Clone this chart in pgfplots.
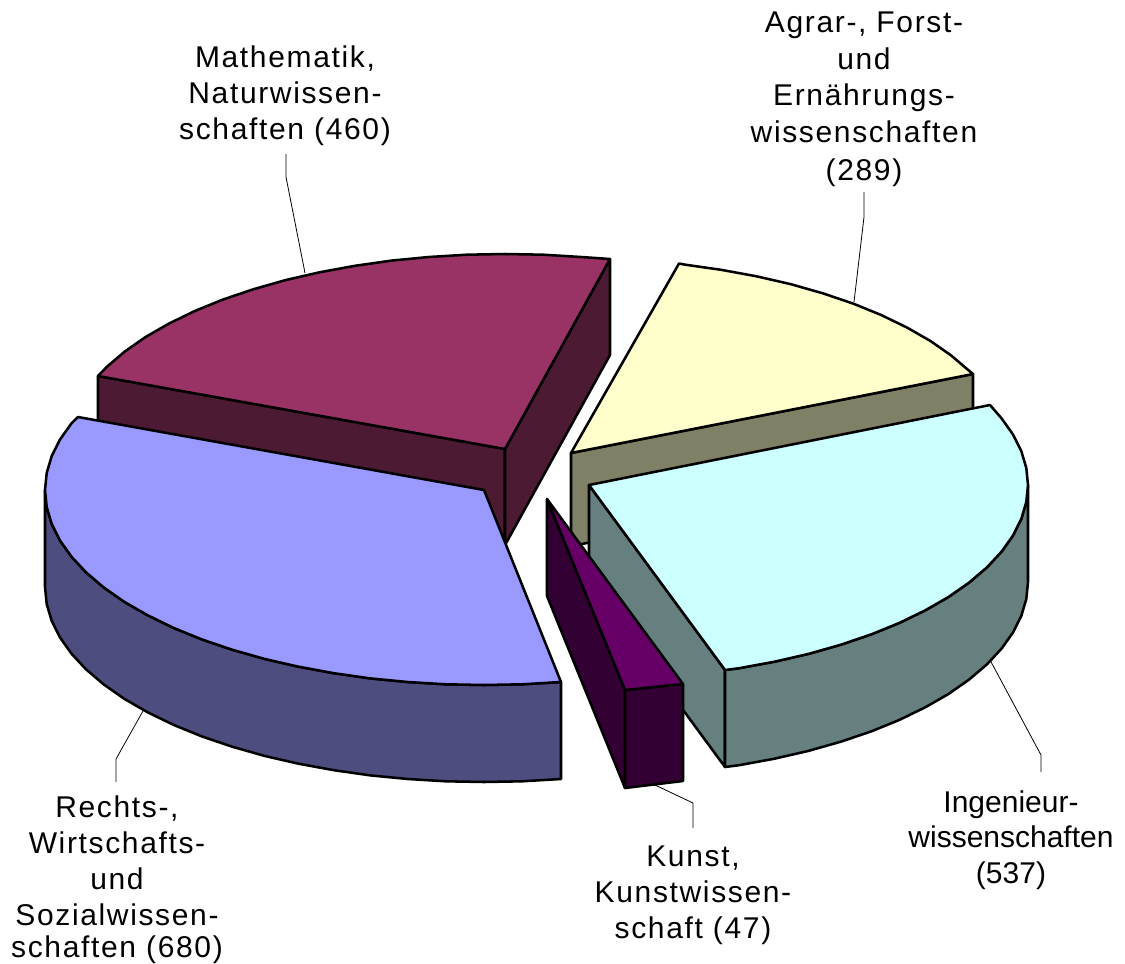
\documentclass[border=0pt]{standalone}
\usepackage{fontspec}
\setmainfont{Liberation Sans}
\usepackage{pgfplots}
\pgfplotsset{compat=1.18}
\definecolor{blueT}{HTML}{9999FF}\definecolor{blueS}{HTML}{4D4D80}
\definecolor{marT}{HTML}{993366}\definecolor{marS}{HTML}{4D1A33}
\definecolor{yelT}{HTML}{FFFFCC}\definecolor{yelS}{HTML}{808066}
\definecolor{cyaT}{HTML}{CCFFFF}\definecolor{cyaS}{HTML}{668080}
\definecolor{purT}{HTML}{660066}\definecolor{purS}{HTML}{330033}
\newcommand{\lbl}[4]{\node[anchor=base,inner sep=0pt,text=black] at (axis cs:#1,#2) {\fontsize{22.5pt}{27pt}\selectfont\addfontfeature{LetterSpace=#3}#4};}
\pgfplotsset{face/.style={draw=black,fill=#1,line width=1.9pt,line join=round},
 lead/.style={draw=black,line width=0.6pt}}
\begin{document}
\begin{tikzpicture}
\path[use as bounding box] (0,0) rectangle (843.75pt,723pt);
\begin{axis}[at={(0,0)},anchor=south west,scale only axis,width=843.75pt,height=723pt,
 xmin=0,xmax=1125,ymin=0,ymax=964,y dir=reverse,hide axis,clip=false]
% Mathematik: sides, top
\addplot[face=marS] coordinates {(98,376)(505,449)(505,545)(98,473)} --cycle;
\addplot[face=marS] coordinates {(505,449)(610,259)(610,355)(505,545)} --cycle;
\addplot[face=marT] coordinates {(505,449)(610,259)(581.2,257)(543.3,254.7)(505,254)(466.7,254.7)(428.8,257)(391.4,260.6)(354.9,265.8)(319.5,272.3)(285.5,280.1)(253.2,289.3)(222.8,299.6)(194.6,311.1)(168.7,323.7)(145.4,337.1)(124.8,351.5)(107.1,366.6)(98,376)} --cycle;
% Agrar: side, top
\addplot[face=yelS] coordinates {(571,453)(973,374)(973,471)(571,546)} --cycle;
\addplot[face=yelT] coordinates {(571,453)(679,263.5)(684.6,264.6)(721.1,269.8)(756.5,276.3)(790.5,284.1)(822.8,293.3)(853.2,303.6)(881.4,315.1)(907.3,327.7)(930.6,341.1)(951.2,355.5)(968.9,370.6)(973,374)} --cycle;
% Ingenieur: sides, top
\addplot[face=cyaS] coordinates {(589,485)(725,670)(725,767)(589,582)} --cycle;
\addplot[face=cyaS] coordinates {(1028,485)(1026.3,502)(1021.3,518.9)(1013,535.5)(1001.5,551.7)(986.9,567.4)(969.2,582.5)(948.6,596.9)(925.3,610.3)(899.4,622.9)(871.2,634.4)(840.8,644.7)(808.5,653.9)(774.5,661.7)(739.1,668.2)(725,670)
 (725,767)(739.1,765.2)(774.5,758.7)(808.5,750.9)(840.8,741.7)(871.2,731.4)(899.4,719.9)(925.3,707.3)(948.6,693.9)(969.2,679.5)(986.9,664.4)(1001.5,648.7)(1013,632.5)(1021.3,615.9)(1026.3,599)(1028,582)} --cycle;
\addplot[face=cyaT] coordinates {(589,485)(990,405)(1001.5,418.3)(1013,434.5)(1021.3,451.1)(1026.3,468)(1028,485)(1026.3,502)(1021.3,518.9)(1013,535.5)(1001.5,551.7)(986.9,567.4)(969.2,582.5)(948.6,596.9)(925.3,610.3)(899.4,622.9)(871.2,634.4)(840.8,644.7)(808.5,653.9)(774.5,661.7)(739.1,668.2)(725,670)} --cycle;
% Kunst: sides, top
\addplot[face=purS] coordinates {(547,499)(625,690)(625,788)(547,596)} --cycle;
\addplot[face=purS] coordinates {(625,690)(683,684)(683,781)(625,788)} --cycle;
\addplot[face=purT] coordinates {(547,499)(683,684)(625,690)} --cycle;
% Rechts: side, top
\addplot[face=blueS] coordinates {(45,490)(46.7,507)(51.7,523.9)(60,540.5)(71.5,556.7)(86.1,572.4)(103.8,587.5)(124.4,601.9)(147.7,615.3)(173.6,627.9)(201.8,639.4)(232.2,649.7)(264.5,658.9)(298.5,666.7)(333.9,673.2)(370.4,678.4)(407.8,682)(445.7,684.3)(484,685)(522.3,684.3)(561,682)
 (561,779)(522.3,781.3)(484,782)(445.7,781.3)(407.8,779)(370.4,775.4)(333.9,770.2)(298.5,763.7)(264.5,755.9)(232.2,746.7)(201.8,736.4)(173.6,724.9)(147.7,712.3)(124.4,698.9)(103.8,684.5)(86.1,669.4)(71.5,653.7)(60,637.5)(51.7,620.9)(46.7,604)(45,587)} --cycle;
\addplot[face=blueT] coordinates {(484,490)(78,417)(71.5,423.3)(60,439.5)(51.7,456.1)(46.7,473)(45,490)(46.7,507)(51.7,523.9)(60,540.5)(71.5,556.7)(86.1,572.4)(103.8,587.5)(124.4,601.9)(147.7,615.3)(173.6,627.9)(201.8,639.4)(232.2,649.7)(264.5,658.9)(298.5,666.7)(333.9,673.2)(370.4,678.4)(407.8,682)(445.7,684.3)(484,685)(522.3,684.3)(561,682)} --cycle;
% Leader lines
\addplot[lead] coordinates {(286,154)(286,177)(305,273)};
\addplot[lead] coordinates {(864,192)(864,217)(854,302)};
\addplot[lead] coordinates {(116,782)(116,759)(143,711)};
\addplot[lead] coordinates {(655,785)(693,803)(693,828)};
\addplot[lead] coordinates {(990,660)(1041,755)(1041,772)};
% Labels
\lbl{285}{67}{5.5}{Mathematik,}
\lbl{285}{103}{5.5}{Naturwissen-}
\lbl{285}{139}{5.5}{schaften (460)}
\lbl{864}{32}{5.5}{Agrar-, Forst-}
\lbl{864}{69}{5.5}{und}
\lbl{864}{105}{5.5}{Ernährungs-}
\lbl{864}{142}{5.5}{wissenschaften}
\lbl{864}{180}{5.5}{(289)}
\lbl{117}{817}{5.5}{Rechts-,}
\lbl{117}{853}{5.5}{Wirtschafts-}
\lbl{117}{889}{5.5}{und}
\lbl{117}{925}{5.5}{Sozialwissen-}
\lbl{117}{957}{5.5}{schaften (680)}
\lbl{693}{866}{5.5}{Kunst,}
\lbl{693}{902}{5.5}{Kunstwissen-}
\lbl{693}{938}{5.5}{schaft (47)}
\lbl{1011}{812}{0}{Ingenieur-}
\lbl{1011}{847}{0}{wissenschaften}
\lbl{1011}{883}{0}{(537)}
\end{axis}
\end{tikzpicture}
\end{document}
